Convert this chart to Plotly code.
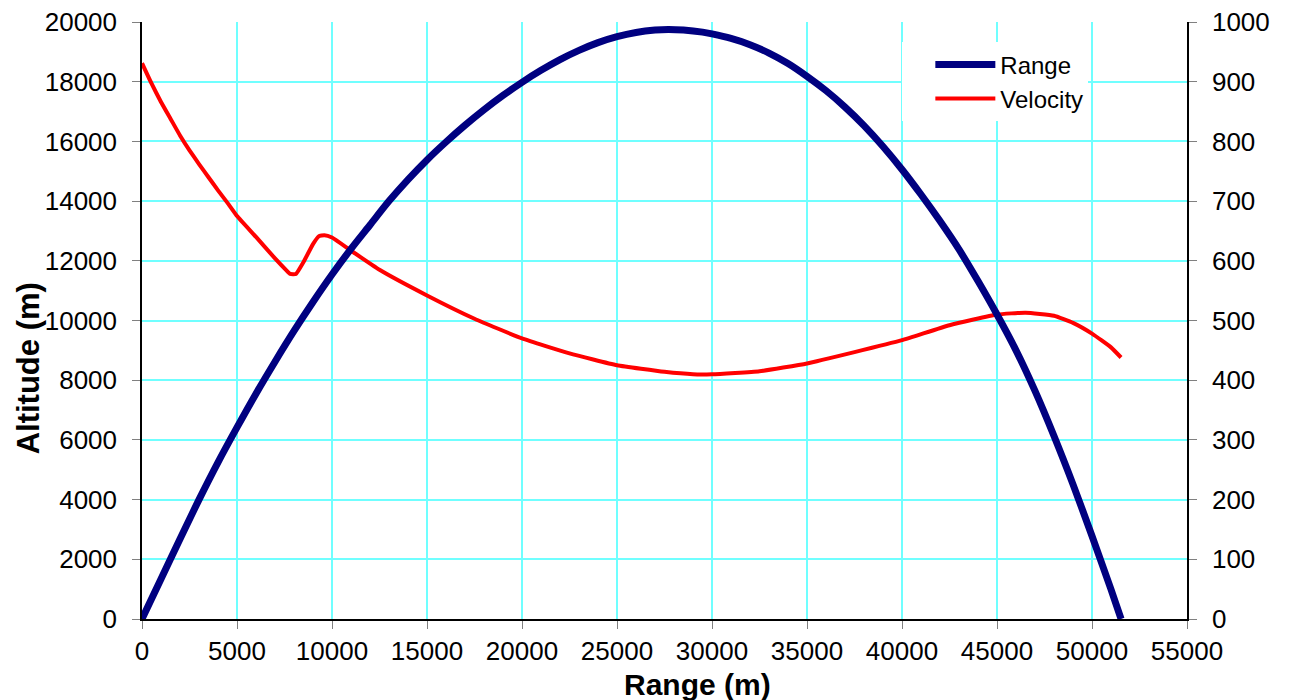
import plotly.graph_objects as go

# Range (altitude) curve: horizontal range (m) vs altitude (m)
range_x = [0, 1000, 2000, 3000, 4000, 5000, 6000, 7000, 8000, 9000, 10000, 11000,
           12000, 13000, 14000, 15000, 16000, 17000, 18000, 19000, 20000, 21000,
           22000, 23000, 24000, 25000, 26000, 27000, 27700, 28500, 29500, 30000,
           31000, 32000, 33000, 34000, 35000, 36000, 37000, 38000, 39000, 40000,
           41000, 42000, 43000, 44000, 45000, 46000, 47000, 48000, 49000, 50000,
           51000, 51530]
range_alt = [0, 1340, 2680, 4000, 5250, 6420, 7550, 8620, 9650, 10620, 11540, 12400,
             13200, 14000, 14720, 15380, 15980, 16540, 17060, 17540, 17980, 18380,
             18740, 19050, 19310, 19510, 19650, 19730, 19750, 19730, 19660, 19600,
             19450, 19240, 18960, 18610, 18180, 17700, 17150, 16530, 15830, 15060,
             14220, 13330, 12380, 11320, 10200, 9000, 7640, 6130, 4510, 2780,
             990, 0]

# Velocity curve: horizontal range (m) vs velocity (m/s)
vel_x = [0, 500, 1000, 1500, 2000, 2500, 3000, 3500, 4000, 4500, 5000, 6000, 7000, 7600,
         7800, 8100, 8500, 9000, 9300, 9600, 10000, 11000, 12500, 15000, 17500, 20000,
         22500, 25000, 27500, 29000, 30000, 32500, 35000, 37500, 40000, 42500, 45000,
         46500, 48000, 49000, 50000, 51000, 51530]
vel_v = [931, 897, 866, 838, 810, 785, 762, 740, 718, 697, 675, 640, 604, 584,
         578, 578, 598, 628, 641, 643, 639, 617, 585, 542, 503, 470,
         445, 425, 414, 410, 410, 415, 428, 447, 467, 492, 510,
         513, 508, 496, 478, 455, 438]

x_ticks = list(range(0, 55001, 5000))
alt_ticks = list(range(0, 20001, 2000))
vel_ticks = list(range(0, 1001, 100))

x_title = "Range (m)"
y_title = "Altitude (m)"

FONT = "Liberation Sans, Arial, sans-serif"
GRID = "#70FFFF"
TICK = "#808080"

fig = go.Figure()
fig.add_trace(go.Scatter(x=vel_x, y=vel_v, name="Velocity", mode="lines",
                         line=dict(color="#FF0000", width=4, shape="spline", smoothing=0.4),
                         yaxis="y", legendrank=2))
fig.add_trace(go.Scatter(x=range_x, y=range_alt, name="Range", mode="lines",
                         line=dict(color="#000080", width=7, shape="spline", smoothing=0.8),
                         yaxis="y2", legendrank=1))

fig.update_layout(
    width=1290, height=700,
    margin=dict(l=142, r=103, t=22, b=81, autoexpand=False),
    paper_bgcolor="white", plot_bgcolor="white",
    font=dict(family=FONT, size=26, color="black"),
    xaxis=dict(range=[0, 55000], tickvals=x_ticks, ticktext=[str(v) for v in x_ticks],
               showgrid=True, gridcolor=GRID, gridwidth=1.5,
               showline=True, linecolor="black", linewidth=1.5,
               ticks="outside", ticklen=8, tickcolor=TICK, zeroline=False,
               ticklabelstandoff=0, automargin=False),
    yaxis=dict(range=[0, 1000], tickvals=vel_ticks, ticktext=[str(v) for v in vel_ticks],
               side="right", anchor="x", showgrid=True, gridcolor=GRID, gridwidth=1.5,
               showline=True, linecolor="black", linewidth=1.5,
               ticks="outside", ticklen=8, tickcolor=TICK, zeroline=False,
               ticklabelstandoff=10, automargin=False),
    yaxis2=dict(range=[0, 20000], tickvals=alt_ticks, ticktext=[str(v) for v in alt_ticks],
                overlaying="y", side="left", anchor="x", showgrid=False,
                showline=True, linecolor="black", linewidth=1.5,
                ticks="outside", ticklen=8, tickcolor=TICK, zeroline=False,
                ticklabelstandoff=10, automargin=False),
    legend=dict(x=0.7276, y=0.966, xanchor="left", yanchor="top",
                bgcolor="white", borderwidth=0, font=dict(size=24),
                tracegroupgap=0, itemwidth=60, indentation=28),
    showlegend=True,
    annotations=[
        dict(text=f"<b>{x_title}</b>", xref="paper", yref="paper",
             x=0.5314, y=-0.1089, xanchor="center", yanchor="middle",
             showarrow=False, font=dict(size=30)),
        dict(text=f"<b>{y_title}</b>", xref="paper", yref="paper",
             x=-0.1088, y=0.4204, xanchor="center", yanchor="middle",
             textangle=-90, showarrow=False, font=dict(size=31)),
    ],
)

fig.write_html("out.html")
